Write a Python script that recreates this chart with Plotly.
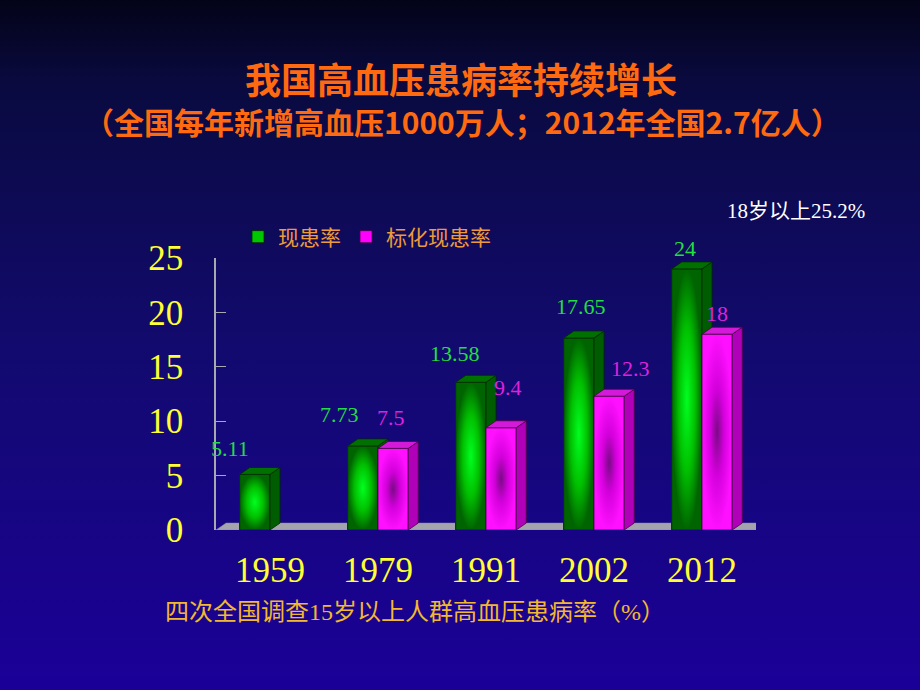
import base64
import plotly.graph_objects as go

# ---------------- data ----------------
years = ["1959", "1979", "1991", "2002", "2012"]
prevalence = [5.11, 7.73, 13.58, 17.65, 24]          # 现患率
std_prevalence = [None, 7.5, 9.4, 12.3, 18]          # 标化现患率
green_labels = ["5.11", "7.73", "13.58", "17.65", "24"]
magenta_labels = ["", "7.5", "9.4", "12.3", "18"]
y_ticks = [0, 5, 10, 15, 20, 25]

# ---------------- styling ----------------
W, H = 920, 690
BW = 0.28          # bar width (category units)
DX = 0.093         # 3D depth, x (category units)
DY = 0.64          # 3D depth, y (value units)
green_dx = [-25, -23, -16, 2, -2]
green_dy = [26, 31, 29, 31, 20]
mag_dx = [0, -2, 7, 21, 0]
mag_dy = [0, 31, 40, 28, 21]

x_dom = [216 / W, 756 / W]
y_dom = [(H - 530) / H, (H - 258) / H]

bg_svg = (
    '<svg xmlns="http://www.w3.org/2000/svg" width="920" height="690" viewBox="0 0 920 690" '
    'preserveAspectRatio="none">'
    '<defs><linearGradient id="g" x1="0" y1="0" x2="0" y2="1">'
    '<stop offset="0" stop-color="#030318"/>'
    '<stop offset="0.12" stop-color="#0a0a40"/>'
    '<stop offset="0.5" stop-color="#120a6e"/>'
    '<stop offset="1" stop-color="#1b0098"/>'
    '</linearGradient></defs><rect width="920" height="690" fill="url(#g)"/></svg>'
)
bg_src = "data:image/svg+xml;base64," + base64.b64encode(bg_svg.encode()).decode()

fig = go.Figure()

xs = list(range(len(years)))


def add_series(vals, offset, front, grad, side, top, edge, name, xa, ya):
    fig.add_trace(go.Bar(
        x=xs, y=vals, offset=offset, width=BW, name=name,
        marker=dict(color=front, line=dict(color=edge, width=0.8)),
        xaxis=xa, yaxis=ya, hoverinfo="skip",
    ))
    for i, v in enumerate(vals):
        if v is None:
            continue
        l = i + offset
        r = l + BW
        # gradient front face
        fig.add_trace(go.Scatter(
            x=[l, r, r, l, l], y=[0, 0, v, v, 0], mode="lines", fill="toself",
            fillgradient=dict(type="radial", colorscale=grad),
            line=dict(color=edge, width=0.8), showlegend=False, hoverinfo="skip",
            xaxis=xa, yaxis=ya,
        ))
        # side face
        fig.add_trace(go.Scatter(
            x=[r, r + DX, r + DX, r, r], y=[0, DY, v + DY, v, 0], mode="lines",
            fill="toself", fillcolor=side, line=dict(color=edge, width=0.8),
            showlegend=False, hoverinfo="skip", xaxis=xa, yaxis=ya,
        ))
        # top face
        fig.add_trace(go.Scatter(
            x=[l, r, r + DX, l + DX, l], y=[v, v, v + DY, v + DY, v], mode="lines",
            fill="toself", fillcolor=top, line=dict(color=edge, width=0.8),
            showlegend=False, hoverinfo="skip", xaxis=xa, yaxis=ya,
        ))


add_series(prevalence, -BW, "#00c800",
           [[0, "#00ff20"], [0.55, "#00c000"], [1, "#006400"]],
           "#005c00", "#007000", "#002a00", "现患率", "x", "y")
add_series(std_prevalence, 0, "#ff00ff",
           [[0, "#7a0a86"], [0.45, "#d400dc"], [1, "#ff10ff"]],
           "#b000b8", "#d21ad8", "#4a004a", "标化现患率", "x2", "y2")

label_font = "Liberation Serif, serif"
annotations = []
for i, v in enumerate(prevalence):
    annotations.append(dict(
        x=i - BW / 2, y=v, xref="x", yref="y", text=green_labels[i], showarrow=False,
        xshift=green_dx[i], yshift=green_dy[i], yanchor="middle", xanchor="center",
        font=dict(family=label_font, size=22, color="#22dd44"),
    ))
for i, v in enumerate(std_prevalence):
    if v is None:
        continue
    annotations.append(dict(
        x=i + BW / 2, y=v, xref="x", yref="y", text=magenta_labels[i], showarrow=False,
        xshift=mag_dx[i], yshift=mag_dy[i], yanchor="middle", xanchor="center",
        font=dict(family=label_font, size=22, color="#dd22dd"),
    ))

title_font = "Noto Sans CJK SC"
annotations += [
    dict(x=461 / W, y=1 - 78 / H, xref="paper", yref="paper", showarrow=False,
         xanchor="center", yanchor="middle",
         text="<b>我国高血压患病率持续增长</b>",
         font=dict(family=title_font, size=36, color="#ff6a10")),
    dict(x=462 / W, y=1 - 121 / H, xref="paper", yref="paper", showarrow=False,
         xanchor="center", yanchor="middle",
         text="<b>（全国每年新增高血压1000万人；2012年全国2.7亿人）</b>",
         font=dict(family=title_font, size=30, color="#ff6a10")),
    dict(x=867 / W, y=1 - 211 / H, xref="paper", yref="paper", showarrow=False,
         xanchor="right", yanchor="middle", text="18岁以上25.2%",
         font=dict(family="Liberation Serif, Noto Sans CJK SC", size=21, color="#ffffff")),
    dict(x=163 / W, y=1 - 612 / H, xref="paper", yref="paper", showarrow=False,
         xanchor="left", yanchor="middle", text="四次全国调查15岁以上人群高血压患病率（%）",
         font=dict(family="Liberation Serif, Noto Sans CJK SC", size=24, color="#f2b830")),
]

fig.update_layout(
    width=W, height=H,
    margin=dict(l=0, r=0, t=0, b=0, autoexpand=False),
    paper_bgcolor="#120a6e", plot_bgcolor="rgba(0,0,0,0)",
    barmode="overlay", bargap=0,
    showlegend=True,
    legend=dict(orientation="h", x=238 / W, y=1 - 237 / H, xanchor="left", yanchor="middle",
                bgcolor="rgba(0,0,0,0)", font=dict(family="Noto Sans CJK SC", size=21, color="#ee9a3a"),
                itemwidth=30, tracegroupgap=0),
    images=[dict(source=bg_src, xref="paper", yref="paper", x=0, y=1, sizex=1, sizey=1,
                 sizing="stretch", layer="below", xanchor="left", yanchor="top")],
    shapes=[dict(type="path", xref="x", yref="y", layer="below",
                 path=f"M -0.5,0 L 4.5,0 L {4.5 + DX},{DY} L {-0.5 + DX},{DY} Z",
                 fillcolor="#a4a4ac", line=dict(color="#8a8a94", width=0.5))],
    annotations=annotations,
    xaxis=dict(domain=x_dom, range=[-0.5, 4.5], tickvals=xs, ticktext=years,
               showgrid=False, zeroline=False, showline=False, ticks="",
               ticklabelstandoff=16, automargin=False,
               tickfont=dict(family="Liberation Serif, serif", size=35, color="#ffff33"),
               fixedrange=True),
    yaxis=dict(domain=y_dom, range=[0, 25], tickvals=y_ticks, showgrid=False, zeroline=False,
               showline=True, linecolor="#a8a8b0", linewidth=1.5, ticks="inside", ticklen=10,
               tickcolor="#a8a8b0", tickwidth=1, ticklabelstandoff=24, automargin=False,
               tickfont=dict(family="Liberation Serif, serif", size=35, color="#ffff33"),
               fixedrange=True),
    xaxis2=dict(overlaying="x", anchor="y2", range=[-0.5, 4.5], visible=False, fixedrange=True),
    yaxis2=dict(overlaying="y", anchor="x2", range=[0, 25], visible=False, fixedrange=True),
)

fig.write_html("out.html", config={"displayModeBar": False})
